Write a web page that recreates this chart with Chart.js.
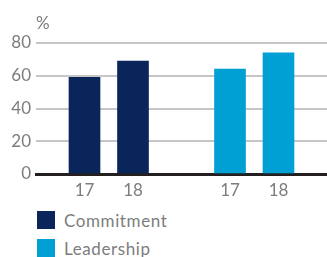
<!DOCTYPE html>
<html>
<head>
<meta charset="utf-8">
<script src="https://cdn.jsdelivr.net/npm/chart.js@4"></script>
<style>
  html, body { margin: 0; padding: 0; background: #fff; }
  #wrap { position: relative; width: 327px; height: 257px; overflow: hidden; font-family: Lato, "Open Sans", sans-serif; }
  #box { position: absolute; left: 0; top: 0; width: 333px; height: 204px; }
  #legend { position: absolute; left: 37px; top: 211px; }
  .item { display: flex; align-items: center; height: 18px; margin-bottom: 10px; color: #7d7d7d; font-size: 17px; letter-spacing: 0.6px; }
  .swatch { width: 18px; height: 18px; margin-right: 9px; }
</style>
</head>
<body>
<div id="wrap">
  <div id="box"><canvas id="myChart"></canvas></div>
  <div id="legend"></div>
</div>
<script>
// data
var years = ["17", "18"];
var seriesNames = ["Commitment", "Leadership"];
var commitment = [59, 69];
var leadership = [64, 74];
var colors = ["#0a255a", "#00a0d4"];

// one empty slot on each side and one between the groups
var labels = [""].concat(years, [""], years, [""]);
var commitmentData = [null].concat(commitment, [null, null, null, null]);
var leadershipData = [null, null, null, null].concat(leadership, [null]);

var grey = "#7d7d7d";
var fontSpec = { family: "Lato, 'Open Sans', sans-serif", size: 17 };

// petit plugin pour le "%" au-dessus de l'axe
var percentLabel = {
    id: "percentLabel",
    afterDraw: function(chart) {
        var ctx = chart.ctx;
        ctx.save();
        ctx.fillStyle = grey;
        ctx.font = "17px Lato, 'Open Sans', sans-serif";
        ctx.textAlign = "left";
        ctx.textBaseline = "middle";
        ctx.fillText("%", chart.chartArea.left, chart.scales.y.top - 19);
        ctx.restore();
    }
};

var ctx = document.getElementById("myChart");
var myChart = new Chart(ctx, {
    type: "bar",
    data: {
        labels: labels,
        datasets: [
            { label: seriesNames[0], data: commitmentData, backgroundColor: colors[0], grouped: false, barThickness: 31 },
            { label: seriesNames[1], data: leadershipData, backgroundColor: colors[1], grouped: false, barThickness: 31 }
        ]
    },
    options: {
        responsive: true,
        maintainAspectRatio: false,
        animation: false,
        layout: { padding: { top: 43, right: 0, bottom: 0, left: 0 } },
        plugins: {
            legend: { display: false },
            tooltip: { enabled: false }
        },
        scales: {
            x: {
                offset: false,
                z: 1,
                grid: { display: false, drawTicks: false },
                border: { display: true, color: "#231f20", width: 3 },
                ticks: { color: grey, font: fontSpec, padding: 6, maxRotation: 0, autoSkip: false },
                afterFit: function(scale) { scale.height = 30; }
            },
            y: {
                min: 0,
                max: 80,
                grid: { color: "#c6c6c6", lineWidth: 2, drawTicks: false },
                border: { display: false },
                ticks: { stepSize: 20, color: grey, font: fontSpec, padding: 5 },
                afterFit: function(scale) { scale.width = 36; }
            }
        }
    },
    plugins: [percentLabel]
});

// legende HTML
var legendHtml = "";
for (var i = 0; i < seriesNames.length; i++) {
    legendHtml += '<div class="item"><span class="swatch" style="background:' + colors[i] + '"></span>' + seriesNames[i] + '</div>';
}
document.getElementById("legend").innerHTML = legendHtml;
</script>
</body>
</html>
